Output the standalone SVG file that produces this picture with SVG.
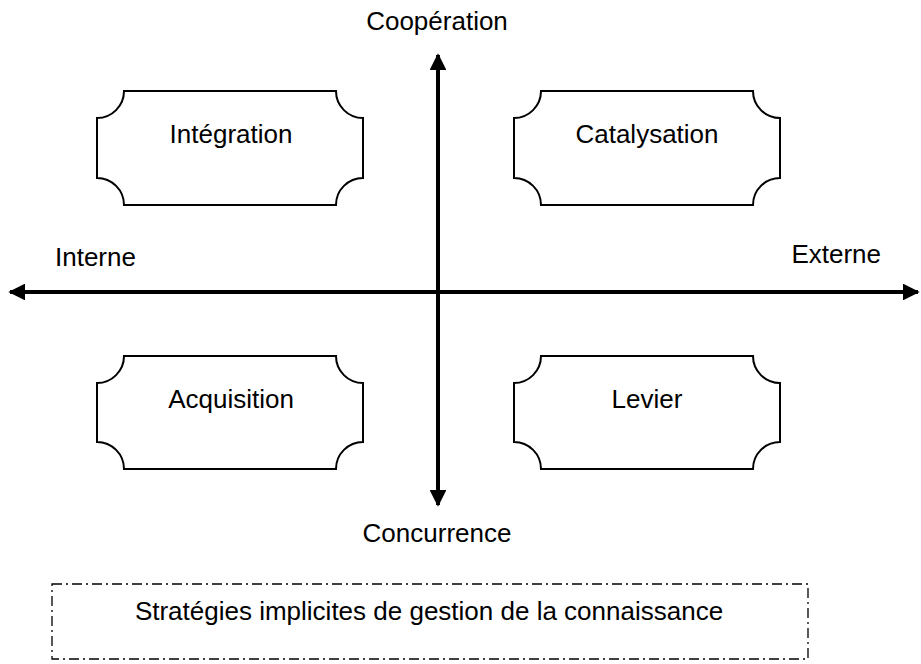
<svg xmlns="http://www.w3.org/2000/svg" width="921" height="664" viewBox="0 0 921 664">
  <style>
    text { font-family: "Liberation Sans", Arial, sans-serif; font-size: 26px; fill: #000; }
    .plaque { fill: #fff; stroke: #000; stroke-width: 2; }
    .axis { stroke: #000; stroke-width: 4; fill: none; }
    .frame { fill: none; stroke: #000; stroke-width: 1.3; stroke-dasharray: 10 4 2 4; }
  </style>
  <defs>
    <marker id="head" viewBox="0 0 10 10" refX="9" refY="5" markerWidth="4.2" markerHeight="4.2" orient="auto-start-reverse" markerUnits="strokeWidth">
      <path d="M0,0 L10,5 L0,10 z" fill="#000"/>
    </marker>
  </defs>
  <rect width="921" height="664" fill="#fff"/>

  <g id="connectors">
    <line class="axis" x1="438" y1="505" x2="438" y2="55" marker-start="url(#head)" marker-end="url(#head)"/>
    <line class="axis" x1="10" y1="292" x2="918" y2="292" marker-start="url(#head)" marker-end="url(#head)"/>
  </g>

  <g id="integration">
    <path class="plaque" d="M124,91 H336 A27,27 0 0 0 363,118 V178 A27,27 0 0 0 336,205 H124 A27,27 0 0 0 97,178 V118 A27,27 0 0 0 124,91 Z"/>
    <text x="231" y="143" text-anchor="middle">Intégration</text>
  </g>
  <g id="catalysation">
    <path class="plaque" d="M541,91 H753 A27,27 0 0 0 780,118 V178 A27,27 0 0 0 753,205 H541 A27,27 0 0 0 514,178 V118 A27,27 0 0 0 541,91 Z"/>
    <text x="647" y="143" text-anchor="middle">Catalysation</text>
  </g>
  <g id="acquisition">
    <path class="plaque" d="M124,356 H336 A27,27 0 0 0 363,383 V442 A27,27 0 0 0 336,469 H124 A27,27 0 0 0 97,442 V383 A27,27 0 0 0 124,356 Z"/>
    <text x="231" y="408" text-anchor="middle">Acquisition</text>
  </g>
  <g id="levier">
    <path class="plaque" d="M541,356 H753 A27,27 0 0 0 780,383 V442 A27,27 0 0 0 753,469 H541 A27,27 0 0 0 514,442 V383 A27,27 0 0 0 541,356 Z"/>
    <text x="647" y="408" text-anchor="middle">Levier</text>
  </g>

  <g id="axis-labels">
    <text x="437" y="30" text-anchor="middle">Coopération</text>
    <text x="55" y="266">Interne</text>
    <text x="881" y="263" text-anchor="end">Externe</text>
    <text x="437" y="542" text-anchor="middle">Concurrence</text>
  </g>

  <g id="legend">
    <rect class="frame" x="52" y="584" width="756" height="75"/>
    <text x="429" y="620" text-anchor="middle">Stratégies implicites de gestion de la connaissance</text>
  </g>
</svg>
